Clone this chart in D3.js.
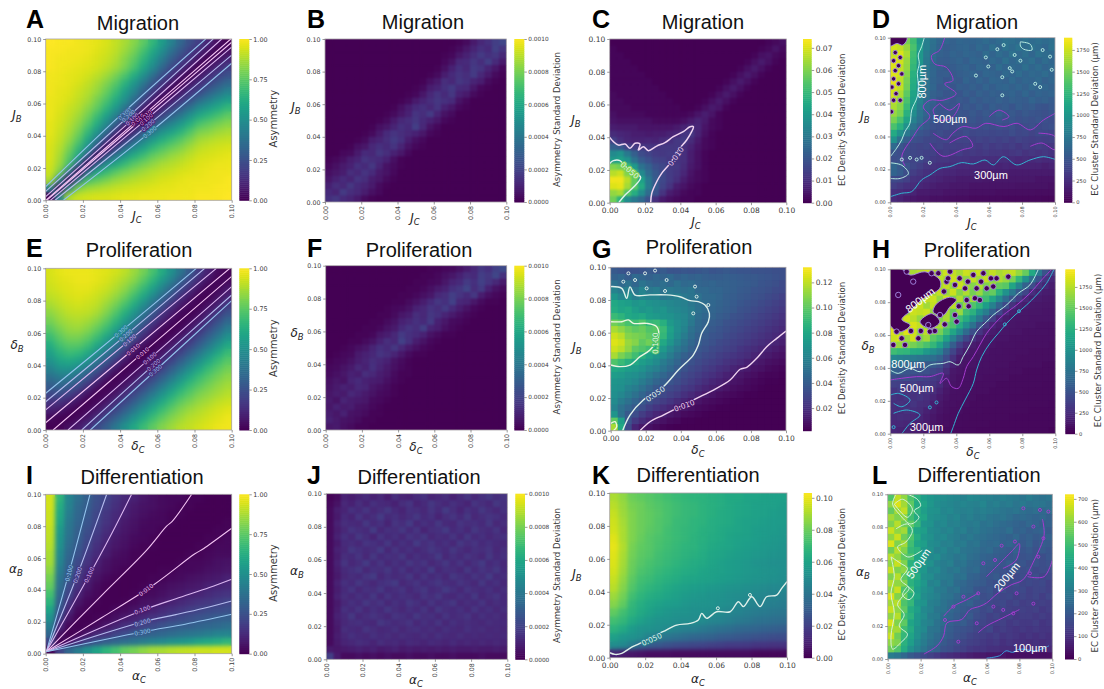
<!DOCTYPE html>
<html>
<head>
<meta charset="utf-8">
<script src="https://cdn.jsdelivr.net/npm/d3@7"></script>
<style>
  body { margin: 0; background: #fff; }
  text { font-family: "DejaVu Sans", sans-serif; fill: #3a3a3a; }
  .title, .letter, .big { font-family: "Liberation Sans", Arial, sans-serif; }
  .title { font-size: 20px; fill: #111; }
  .letter { font-size: 25px; font-weight: bold; fill: #000; }
  .axis path { display: none; }
  .axis line { stroke: #555; stroke-width: 0.6; }
</style>
</head>
<body>
<svg id="chart" width="1104" height="689"></svg>
<script>
// rows run top to bottom (highest y value first), columns left to right
const axisTicks = [0, 0.02, 0.04, 0.06, 0.08, 0.1];

const asymMigration = [
  [100,99,99,98,97,96,94,91,87,82,75,66,55,44,33,24,18,10,4,0],
  [99,99,98,98,97,95,93,90,85,79,70,60,49,37,27,19,11,5,0,4],
  [99,98,98,97,96,94,92,88,82,75,65,54,42,30,21,13,5,0,5,10],
  [99,98,97,96,95,93,90,86,80,71,60,48,34,23,14,6,0,6,12,18],
  [98,97,96,95,93,90,86,80,72,62,50,37,25,15,6,0,6,13,19,25],
  [98,97,96,94,91,87,81,74,64,53,40,27,16,7,0,7,14,20,27,34],
  [98,96,95,92,89,84,77,68,57,45,31,18,8,0,7,15,21,30,37,44],
  [97,96,94,91,87,80,72,62,50,36,22,9,0,8,16,24,34,42,49,55],
  [97,95,92,89,83,76,66,54,40,26,10,0,9,18,27,37,48,54,60,66],
  [97,94,91,86,79,69,57,44,29,12,0,10,20,31,40,50,60,65,70,75],
  [96,93,89,83,74,62,48,32,13,0,12,24,36,45,53,62,71,75,79,82],
  [96,92,87,79,67,53,36,16,0,13,28,40,50,57,64,72,80,82,85,87],
  [95,91,84,74,59,41,19,0,16,32,44,54,62,68,74,80,86,88,90,91],
  [94,89,80,67,49,25,0,19,36,48,57,66,72,77,81,86,90,92,93,94],
  [94,87,75,59,30,0,25,41,53,62,69,76,80,84,87,90,93,94,95,96],
  [93,85,70,35,0,30,49,59,67,74,79,83,87,89,91,93,95,96,97,97],
  [92,80,40,0,35,59,67,74,79,83,86,89,91,92,94,95,96,97,98,98],
  [88,45,0,40,70,75,80,84,87,89,91,92,94,95,96,97,97,98,98,99],
  [45,0,45,80,85,87,89,91,92,93,94,95,96,96,97,97,98,98,99,99],
  [0,45,88,92,93,94,94,95,96,96,97,97,97,98,98,98,99,99,99,100]
];
const asymProliferation = [
  [94,96,97,97,97,96,95,93,90,85,79,71,61,50,39,28,17,9,3,1],
  [93,95,96,97,97,96,94,91,87,82,74,65,54,43,31,21,11,4,1,2],
  [92,94,95,96,96,94,92,88,83,76,67,57,45,33,22,13,5,1,2,6],
  [90,92,94,95,94,92,89,84,78,69,59,47,35,24,14,6,1,1,5,10],
  [87,90,92,93,92,90,85,79,71,61,49,37,26,15,7,2,1,4,9,17],
  [83,87,90,91,90,87,81,73,63,52,40,28,16,8,2,0,3,9,16,25],
  [79,84,87,88,86,82,75,66,55,43,31,19,9,3,0,3,8,15,24,33],
  [74,80,84,85,82,76,68,58,46,34,21,10,3,0,2,7,14,23,32,42],
  [68,75,80,80,76,69,59,48,36,23,12,4,0,2,7,13,22,31,41,51],
  [62,70,74,74,69,60,49,38,25,13,4,0,2,7,13,21,30,40,50,60],
  [56,64,68,66,60,50,39,27,15,5,0,2,7,13,21,30,40,50,60,68],
  [50,58,60,57,50,39,27,16,6,0,2,6,13,21,30,40,50,60,68,74],
  [43,50,51,46,38,27,16,6,0,2,6,13,21,30,40,50,60,68,74,79],
  [36,41,41,35,26,16,6,0,2,6,13,21,30,40,50,60,68,74,79,83],
  [29,33,30,24,15,6,0,2,6,13,21,30,40,50,60,68,74,79,83,86],
  [22,24,20,13,5,0,2,6,13,21,30,40,50,60,68,74,80,83,86,89],
  [15,15,10,4,0,2,6,13,21,30,40,50,60,68,75,80,84,87,90,92],
  [9,7,2,0,2,6,13,21,30,40,50,60,68,75,81,85,88,91,93,95],
  [3,0,0,2,6,13,21,30,40,50,60,68,75,81,85,89,91,93,95,97],
  [0,1,4,8,14,22,30,40,50,60,68,75,81,85,89,91,93,95,97,98]
];
const asymDifferentiation = [
  [93,65,45,36,30,24,20,15,11,9,6,4,3,2,2,1,1,0,0,0],
  [93,62,44,34,29,23,18,14,10,7,5,4,3,2,1,1,0,0,0,0],
  [92,60,42,33,27,21,16,12,9,6,4,3,2,1,1,0,0,0,0,0],
  [92,58,40,32,26,20,15,11,7,5,3,2,2,1,0,0,0,0,0,1],
  [91,54,39,30,24,18,13,9,6,4,2,2,1,0,0,0,0,0,1,1],
  [90,52,37,29,22,16,11,7,5,3,2,1,0,0,0,0,0,1,1,2],
  [89,50,35,27,20,14,9,6,4,2,1,1,0,0,0,0,1,1,2,2],
  [87,47,33,25,17,12,8,4,3,1,1,0,0,0,0,1,1,2,3,3],
  [86,45,31,22,15,9,5,3,2,1,0,0,0,0,1,2,2,3,4,5],
  [83,42,29,20,12,7,4,2,1,0,0,0,1,1,2,2,3,4,5,6],
  [79,39,27,16,9,5,2,1,0,0,0,1,1,2,3,4,5,6,7,9],
  [76,36,23,14,7,3,1,0,0,0,1,2,3,4,5,6,7,9,10,11],
  [70,33,20,10,4,2,0,0,0,1,2,3,4,6,7,9,10,12,14,15],
  [65,30,15,6,2,1,0,0,1,2,4,5,7,9,11,13,15,16,18,20],
  [58,26,11,3,1,0,0,2,3,5,7,9,12,14,16,18,20,22,23,24],
  [50,20,6,1,0,1,2,4,7,9,12,15,17,20,22,24,26,27,29,30],
  [42,12,2,0,1,3,6,10,14,16,20,22,25,27,29,30,32,33,34,36],
  [33,4,0,2,6,11,15,20,23,27,29,31,33,35,37,39,40,42,44,45],
  [20,0,4,12,20,26,30,33,36,39,42,45,47,50,52,54,58,60,62,65],
  [0,20,33,42,50,58,65,70,76,79,83,86,87,89,90,91,92,92,93,93]
];

const stdMigration = [
  [0,0,0,0,0,0,0,0,0,0,0,0,0,0,0,0,0,0,1,3,7,11,14,18,21],
  [0,0,0,0,0,0,0,0,0,0,0,0,0,0,0,0,0,1,3,6,10,14,12,19,15],
  [0,0,0,0,0,0,0,0,0,0,0,0,0,0,0,0,1,2,6,9,13,17,14,16,11],
  [0,0,0,0,0,0,0,0,0,0,0,0,0,0,0,0,2,5,11,12,16,13,18,12,7],
  [0,0,0,0,0,0,0,0,0,0,0,0,0,0,0,1,4,9,14,11,17,15,10,6,2],
  [0,0,0,0,0,0,0,0,0,0,0,0,0,0,1,3,8,12,15,13,17,11,7,3,1],
  [0,0,0,0,0,0,0,0,0,0,0,0,0,1,4,7,13,11,16,14,10,8,3,1,0],
  [0,0,0,0,0,0,0,0,0,0,0,0,1,3,8,10,14,17,12,11,6,2,1,0,0],
  [0,0,0,0,0,0,0,0,0,0,0,1,2,6,11,15,12,16,9,7,3,1,0,0,0],
  [0,0,0,0,0,0,0,0,0,0,1,3,7,10,13,16,14,12,5,2,0,0,0,0,0],
  [0,0,0,0,0,0,0,0,0,1,4,8,12,14,11,15,9,6,2,1,0,0,0,0,0],
  [0,0,0,0,0,0,0,0,1,3,6,9,15,13,17,10,5,3,0,0,0,0,0,0,0],
  [0,0,0,0,0,0,0,1,3,7,11,13,16,12,9,6,2,1,0,0,0,0,0,0,0],
  [0,0,0,0,0,0,1,4,6,10,14,12,18,11,5,2,0,0,0,0,0,0,0,0,0],
  [0,0,0,0,0,1,3,7,12,15,13,11,9,6,2,1,0,0,0,0,0,0,0,0,0],
  [0,0,0,0,1,3,8,10,13,17,14,8,4,2,0,0,0,0,0,0,0,0,0,0,0],
  [0,0,0,1,4,6,11,14,12,15,10,5,2,1,0,0,0,0,0,0,0,0,0,0,0],
  [0,0,2,3,7,12,11,16,13,9,6,2,0,0,0,0,0,0,0,0,0,0,0,0,0],
  [1,2,4,8,10,15,13,12,9,4,1,0,0,0,0,0,0,0,0,0,0,0,0,0,0],
  [2,4,7,9,14,12,16,10,5,3,1,0,0,0,0,0,0,0,0,0,0,0,0,0,0],
  [4,6,8,13,11,15,12,7,5,2,0,0,0,0,0,0,0,0,0,0,0,0,0,0,0],
  [6,9,12,10,15,13,8,6,3,1,0,0,0,0,0,0,0,0,0,0,0,0,0,0,0],
  [9,13,11,16,12,10,7,3,1,0,0,0,0,0,0,0,0,0,0,0,0,0,0,0,0],
  [12,10,17,13,11,8,4,2,0,0,0,0,0,0,0,0,0,0,0,0,0,0,0,0,0],
  [14,16,12,10,7,3,1,0,0,0,0,0,0,0,0,0,0,0,0,0,0,0,0,0,0]
];
const stdProliferation = [
  [0,0,0,0,0,0,0,0,0,0,0,0,0,0,1,1,2,3,5,8,11,16,14,19,22],
  [0,0,0,0,0,0,0,0,0,0,0,0,0,1,1,2,4,6,9,13,12,18,16,21,14],
  [0,0,0,0,0,0,0,0,0,0,0,0,1,1,2,3,6,10,12,17,14,19,15,11,7],
  [0,0,0,0,0,0,0,0,0,0,0,1,1,2,4,7,9,14,16,20,13,17,9,5,3],
  [0,0,0,0,0,0,0,0,0,0,1,1,2,4,6,11,13,18,15,12,16,8,4,2,1],
  [0,0,0,0,0,0,0,0,0,1,1,3,5,8,12,16,14,19,11,10,6,3,1,1,0],
  [0,0,0,0,0,0,0,0,1,2,3,5,9,11,15,13,17,12,8,5,2,1,0,0,0],
  [0,0,0,0,0,0,0,1,1,3,6,8,13,11,16,14,10,7,4,2,1,0,0,0,0],
  [0,0,0,0,0,0,1,1,3,5,9,11,14,12,17,9,6,3,2,1,0,0,0,0,0],
  [0,0,0,0,0,1,1,2,5,7,12,15,13,18,10,8,4,2,1,0,0,0,0,0,0],
  [0,0,0,0,1,1,2,6,8,11,17,14,12,9,5,3,1,1,0,0,0,0,0,0,0],
  [0,0,0,1,1,3,5,9,13,11,19,14,8,5,2,1,0,0,0,0,0,0,0,0,0],
  [0,0,1,2,4,6,10,14,12,16,11,7,4,2,1,0,0,0,0,0,0,0,0,0,0],
  [0,1,2,3,7,9,11,15,13,10,6,3,1,1,0,0,0,0,0,0,0,0,0,0,0],
  [1,2,3,5,8,10,13,11,9,5,3,1,0,0,0,0,0,0,0,0,0,0,0,0,0],
  [2,3,5,7,11,9,14,10,7,4,2,1,0,0,0,0,0,0,0,0,0,0,0,0,0],
  [3,4,6,9,8,13,11,8,6,3,1,1,0,0,0,0,0,0,0,0,0,0,0,0,0],
  [4,6,5,10,12,9,8,7,4,2,1,0,0,0,0,0,0,0,0,0,0,0,0,0,0],
  [5,7,9,8,11,10,6,4,3,1,0,0,0,0,0,0,0,0,0,0,0,0,0,0,0],
  [6,8,7,11,9,7,5,3,2,1,0,0,0,0,0,0,0,0,0,0,0,0,0,0,0],
  [7,5,10,8,7,6,3,2,1,0,0,0,0,0,0,0,0,0,0,0,0,0,0,0,0],
  [6,9,7,8,5,4,2,1,0,0,0,0,0,0,0,0,0,0,0,0,0,0,0,0,0],
  [8,6,9,5,4,3,1,1,0,0,0,0,0,0,0,0,0,0,0,0,0,0,0,0,0],
  [9,7,5,4,3,1,1,0,0,0,0,0,0,0,0,0,0,0,0,0,0,0,0,0,0],
  [6,7,4,3,1,1,0,0,0,0,0,0,0,0,0,0,0,0,0,0,0,0,0,0,0]
];
const stdDifferentiation = [
  [1,3,9,8,10,12,9,11,8,13,10,9,12,14,10,11,13,9,12,15,11,14,16,13,15],
  [2,5,11,9,13,10,14,12,11,9,13,15,10,12,16,13,11,14,12,10,15,13,11,16,14],
  [3,8,10,14,12,15,11,13,16,12,10,14,13,11,15,12,17,13,10,14,12,16,13,11,14],
  [3,7,12,10,15,11,13,17,12,14,11,13,16,12,14,10,13,15,12,16,11,13,15,14,12],
  [3,9,13,12,11,16,12,14,10,15,13,17,11,14,12,16,12,11,15,13,14,12,16,11,13],
  [3,8,11,15,13,12,17,11,14,13,16,12,15,10,13,14,17,12,14,11,16,13,12,15,11],
  [3,9,14,11,16,13,10,15,12,14,11,15,13,16,11,13,12,15,11,16,12,14,11,13,14],
  [3,7,12,13,11,15,14,12,16,11,14,12,17,13,15,12,14,11,16,13,15,12,14,12,11],
  [3,9,11,16,14,12,13,17,11,15,12,14,11,13,16,14,12,16,13,11,14,13,15,11,13],
  [3,8,13,12,15,11,16,12,14,13,16,11,14,12,13,17,11,14,12,15,13,11,16,12,14],
  [3,9,15,11,13,17,12,15,11,14,12,16,13,15,11,13,16,12,15,11,14,17,12,14,11],
  [3,8,12,14,16,11,14,13,16,12,15,11,14,12,17,11,14,13,11,16,12,15,13,16,12],
  [3,7,11,13,12,15,17,11,14,12,13,16,11,15,12,14,11,16,14,12,15,13,17,12,13],
  [3,9,14,12,16,13,11,14,15,17,11,13,15,12,14,16,13,12,15,13,11,16,12,14,11],
  [3,8,12,15,11,14,13,16,12,13,15,11,14,16,12,13,17,14,11,15,13,12,14,11,13],
  [3,9,13,11,14,12,16,11,15,12,14,13,11,15,13,16,12,11,14,12,16,11,13,15,12],
  [3,7,11,14,12,16,13,15,11,14,12,16,14,11,15,12,14,16,11,13,12,15,11,13,12],
  [3,8,14,12,15,11,14,12,16,13,11,14,12,15,11,16,13,12,14,11,15,12,14,11,13],
  [3,9,12,16,11,13,15,13,11,15,14,12,16,13,14,11,15,12,13,15,11,14,12,13,11],
  [3,8,11,13,14,12,11,16,14,12,13,15,11,14,12,15,11,14,12,13,12,11,13,12,12],
  [3,7,13,12,11,15,13,11,12,14,11,13,14,12,13,11,14,12,11,14,12,13,11,12,11],
  [3,8,11,14,12,11,14,12,13,11,13,12,11,13,11,14,12,11,13,11,12,11,12,11,12],
  [3,7,10,11,13,12,10,13,11,12,10,12,11,10,12,11,10,12,10,11,10,11,10,11,10],
  [7,6,7,8,9,8,9,7,8,9,7,8,7,8,7,8,7,8,7,7,8,7,7,8,7],
  [18,7,3,3,4,3,4,3,4,3,3,4,3,3,4,3,3,4,3,3,3,4,3,3,3]
];

const densityMigration = [
  [0,0,0,0,0,0,0,0,0,0,0,0,0,0,0,0,0,0,0,0,0,0,1,2,3],
  [1,0,0,0,0,0,0,0,0,0,0,0,0,0,0,0,0,0,0,0,0,1,2,4,2],
  [1,1,0,0,0,0,0,0,0,0,0,0,0,0,0,0,0,0,0,0,1,3,4,2,1],
  [1,1,1,0,0,0,0,0,0,0,0,0,0,0,0,0,0,0,0,1,3,5,3,1,0],
  [1,1,1,1,0,0,0,0,0,0,0,0,0,0,0,0,0,0,1,3,5,3,1,0,0],
  [1,1,1,1,1,0,0,0,0,0,0,0,0,0,0,0,0,1,3,5,3,1,0,0,0],
  [1,1,1,1,1,1,0,0,0,0,0,0,0,0,0,0,1,3,5,3,1,0,0,0,0],
  [1,1,1,1,1,1,1,0,0,0,0,0,0,0,0,1,3,5,3,1,0,0,0,0,0],
  [2,1,1,1,1,1,1,1,0,0,0,0,0,0,1,3,5,3,1,0,0,0,0,0,0],
  [2,2,1,1,1,1,1,1,1,0,0,0,0,1,3,5,3,1,0,0,0,0,0,0,0],
  [2,2,2,1,1,1,1,1,1,1,0,0,1,3,5,4,1,0,0,0,0,0,0,0,0],
  [3,2,2,2,2,1,1,1,1,1,1,2,4,6,4,1,0,0,0,0,0,0,0,0,0],
  [4,3,3,3,3,3,2,2,2,2,3,5,7,5,2,1,0,0,0,0,0,0,0,0,0],
  [6,5,5,5,4,4,4,4,4,5,7,9,8,4,2,1,0,0,0,0,0,0,0,0,0],
  [9,8,7,6,6,5,6,6,7,8,11,12,7,3,1,0,0,0,0,0,0,0,0,0,0],
  [14,10,8,7,7,8,7,9,10,12,13,9,5,2,1,0,0,0,0,0,0,0,0,0,0],
  [22,20,15,13,12,11,11,12,12,12,10,7,4,2,1,0,0,0,0,0,0,0,0,0,0],
  [35,38,30,22,17,15,13,12,13,12,10,6,3,1,0,0,0,0,0,0,0,0,0,0,0],
  [40,42,38,28,21,18,15,14,12,11,10,6,3,1,0,0,0,0,0,0,0,0,0,0,0],
  [60,58,50,40,28,23,18,16,13,12,9,5,3,1,0,0,0,0,0,0,0,0,0,0,0],
  [66,68,60,52,35,26,20,16,13,11,8,4,2,1,0,0,0,0,0,0,0,0,0,0,0],
  [72,72,66,56,42,30,21,16,13,10,6,3,2,1,0,0,0,0,0,0,0,0,0,0,0],
  [70,71,64,55,45,30,21,15,11,6,4,2,1,0,0,0,0,0,0,0,0,0,0,0,0],
  [62,64,54,46,36,26,18,11,6,4,2,1,1,0,0,0,0,0,0,0,0,0,0,0,0],
  [58,48,36,30,25,18,10,5,3,2,1,1,0,0,0,0,0,0,0,0,0,0,0,0,0]
];
const densityProliferation = [
  [38,36,34,35,36,38,37,39,36,36,37,36,37,38,36,37,38,37,36,36,35,35,34,33,33],
  [42,44,40,46,44,42,45,43,46,42,44,42,43,41,40,40,41,40,39,38,38,37,36,34,33],
  [50,46,50,45,52,48,46,49,46,50,46,47,44,43,44,42,42,41,40,39,38,36,35,33,31],
  [60,55,58,52,60,54,56,50,54,52,50,52,46,46,44,44,42,41,39,38,36,35,33,31,30],
  [70,62,66,58,62,60,60,54,56,58,54,52,50,46,46,44,41,40,38,37,35,33,31,29,27],
  [80,76,74,70,72,68,66,64,62,60,58,54,50,48,45,43,41,39,37,35,33,31,29,27,25],
  [82,78,80,74,70,72,68,70,64,62,60,56,50,47,44,42,40,38,35,33,31,29,27,25,23],
  [90,86,80,78,80,74,72,70,68,64,62,56,48,45,43,40,38,35,33,31,29,27,25,23,21],
  [104,100,94,92,96,88,90,84,72,66,62,54,46,43,40,38,35,33,31,29,27,25,23,21,19],
  [115,110,104,100,102,96,98,90,76,66,60,50,45,41,38,36,33,31,29,27,25,23,21,19,17],
  [122,118,108,106,104,100,104,88,74,64,56,48,42,39,36,34,31,29,27,25,23,21,19,17,15],
  [125,122,112,108,100,104,96,80,70,60,52,45,40,37,34,31,29,27,25,23,21,19,17,15,13],
  [122,118,110,100,96,92,80,72,62,54,48,42,37,34,31,29,27,25,22,20,18,16,14,12,10],
  [115,106,100,92,84,76,70,64,56,48,42,38,34,31,29,26,24,22,20,18,15,13,11,9,8],
  [96,90,84,80,74,70,64,56,50,44,38,34,31,28,26,24,21,19,17,14,12,10,8,7,6],
  [80,78,74,72,68,62,58,52,46,40,35,31,28,25,23,20,18,15,13,11,9,8,6,5,4],
  [74,72,68,66,62,56,50,45,40,36,31,28,25,22,20,17,14,12,10,8,7,5,4,4,3],
  [70,68,65,62,56,50,44,40,36,32,28,25,22,19,16,14,12,9,8,6,5,4,3,3,2],
  [68,66,60,56,50,44,38,35,31,28,24,22,18,15,13,11,9,7,6,5,4,3,2,2,2],
  [66,62,56,50,44,38,34,30,27,24,20,17,14,11,9,7,6,5,4,3,3,2,2,2,1],
  [64,56,50,44,38,32,28,25,22,18,15,12,9,7,6,5,4,3,3,2,2,2,1,1,1],
  [60,50,44,38,32,26,22,19,16,13,10,8,6,5,4,3,3,2,2,1,1,1,1,1,1],
  [70,50,38,32,25,20,16,13,10,8,6,5,4,3,2,2,2,1,1,1,1,1,1,1,1],
  [100,75,35,24,18,14,10,8,6,5,3,3,2,2,1,1,1,1,1,1,1,1,1,1,1],
  [115,80,30,15,10,8,6,4,3,2,2,1,1,1,1,1,1,1,1,1,1,1,1,1,1]
];
const densityDifferentiation = [
  [90,86,80,78,76,74,72,70,68,67,66,65,64,62,62,60,60,59,58,58],
  [92,87,82,80,77,75,73,71,69,68,66,65,64,62,61,60,59,58,58,57],
  [94,88,83,80,78,76,73,71,69,68,66,65,63,62,61,60,59,58,57,56],
  [95,89,83,80,78,75,73,70,69,67,66,64,63,62,60,59,58,57,56,56],
  [96,90,83,80,77,75,72,70,68,67,65,64,62,61,60,59,57,56,56,55],
  [98,90,83,79,76,74,72,70,68,66,65,63,62,60,59,58,57,56,55,54],
  [99,91,82,78,76,73,71,69,67,66,64,62,61,60,58,57,56,55,54,53],
  [98,90,81,77,75,72,70,68,66,65,63,61,60,58,57,56,55,54,53,52],
  [97,89,80,76,73,71,69,67,65,63,62,60,58,57,56,55,53,52,51,51],
  [96,88,79,74,72,69,67,65,63,62,60,59,58,57,56,55,54,53,52,51],
  [94,86,77,72,70,67,65,63,61,60,59,58,57,56,55,54,53,52,51,50],
  [92,84,75,70,67,65,62,60,58,57,56,55,54,53,52,51,50,49,48,48],
  [88,81,72,67,64,62,60,58,56,55,54,53,52,51,50,49,48,47,46,45],
  [84,78,68,64,61,59,57,56,54,53,53,52,51,50,48,47,46,45,44,43],
  [78,72,66,62,59,56,54,53,52,51,51,50,49,47,46,44,43,42,41,40],
  [72,68,62,58,55,53,52,51,50,50,49,47,46,44,42,41,39,38,37,36],
  [66,62,56,53,52,51,49,47,45,44,42,40,38,37,35,34,33,32,31,30],
  [58,54,52,50,45,42,40,38,36,34,33,32,30,29,28,27,26,25,24,24],
  [50,48,42,34,30,28,26,24,23,22,21,20,19,18,18,17,16,16,15,15],
  [10,8,6,5,4,4,4,3,3,3,3,3,3,3,3,3,2,2,2,2]
];

const clusterMigration = [
  [175,170,150,130,100,80,70,62,60,58,62,60,60,62,65,62,65,70,68,65,70,65,68,65,68],
  [175,172,160,135,105,80,68,60,55,58,60,62,58,64,60,68,62,70,65,72,66,70,65,62,70],
  [172,178,165,130,100,78,66,58,56,60,58,62,60,58,66,60,66,62,70,64,68,62,70,66,64],
  [180,175,160,128,100,76,64,55,54,57,60,56,62,60,58,64,60,68,62,66,64,68,60,66,62],
  [178,172,158,125,95,74,62,56,52,54,58,60,56,62,60,58,66,60,64,62,68,62,66,60,64],
  [180,176,155,120,92,72,62,54,55,52,56,58,60,56,62,60,58,64,60,66,60,64,62,66,60],
  [182,170,150,118,90,72,60,56,50,54,52,60,56,60,56,62,60,58,64,58,62,60,64,58,62],
  [178,172,148,115,88,70,62,52,54,50,56,54,58,54,60,56,60,62,58,62,58,64,60,62,58],
  [175,165,142,110,86,68,58,54,50,52,50,56,52,58,54,58,56,58,60,56,62,56,60,58,60],
  [170,160,135,105,82,66,58,50,52,48,52,50,56,52,56,54,58,54,58,56,54,60,56,58,54],
  [165,155,128,100,78,62,54,50,48,50,48,52,50,54,50,56,52,54,50,56,52,54,50,48,52],
  [160,150,120,92,72,60,52,48,50,46,50,48,52,48,52,50,54,50,52,48,52,50,48,46,50],
  [150,135,110,84,68,56,50,46,48,46,48,46,50,46,50,48,50,46,50,46,48,46,50,46,44],
  [135,120,95,72,60,52,46,44,46,42,46,44,46,44,46,44,46,44,46,42,44,46,42,44,46],
  [115,95,75,60,50,46,42,44,40,42,40,44,40,42,42,40,42,40,44,40,42,38,42,40,38],
  [95,70,55,46,44,40,40,38,40,36,38,38,36,38,36,38,36,38,34,38,36,34,36,34,36],
  [65,50,44,40,38,40,36,38,34,36,34,36,34,32,36,32,34,32,34,30,34,32,34,32,30],
  [48,44,42,40,38,36,36,32,34,32,34,30,32,30,32,30,30,28,30,32,28,30,28,30,28],
  [44,46,40,38,42,36,32,30,30,28,28,28,26,26,24,25,24,24,24,22,24,22,24,22,22],
  [62,52,48,40,36,30,28,26,24,24,22,22,20,20,20,20,18,20,18,18,18,18,18,16,18],
  [60,54,44,34,30,26,24,22,20,20,18,18,18,16,16,16,16,16,14,14,14,14,14,14,14],
  [42,40,36,28,26,22,20,18,16,16,14,14,14,14,12,12,12,12,12,12,12,12,10,10,10],
  [34,30,26,24,20,18,16,14,14,12,12,12,10,10,10,10,10,10,10,9,9,9,9,9,8],
  [26,24,20,18,14,14,12,12,10,10,9,9,8,8,8,8,7,7,7,7,7,7,6,6,6],
  [22,18,14,12,10,10,8,8,7,7,6,6,5,5,5,5,5,4,4,4,4,4,4,3,3]
];
const clusterProliferation = [
  [170,170,175,170,175,180,175,172,180,178,170,180,176,180,168,178,170,176,178,165,150,118,78,50,32],
  [170,175,178,172,175,178,180,176,170,180,176,165,178,168,178,160,172,165,155,130,100,72,50,30,20],
  [175,178,172,178,180,176,178,170,178,165,180,170,160,172,158,168,150,145,115,88,60,45,28,20,16],
  [178,175,180,176,178,180,168,178,166,180,160,172,155,165,145,150,125,100,78,55,40,26,18,15,14],
  [176,180,178,180,170,178,180,165,180,158,172,150,168,140,135,115,92,68,50,34,22,16,14,13,12],
  [180,176,178,175,180,168,178,180,160,175,150,165,142,130,108,85,62,44,28,18,15,13,12,11,11],
  [178,180,170,180,178,180,166,178,170,150,165,135,125,100,82,58,40,24,16,13,12,11,11,10,10],
  [180,172,182,176,165,178,180,160,170,145,135,120,100,78,54,36,22,15,12,11,11,10,10,10,10],
  [182,185,170,184,178,165,175,170,150,140,120,96,74,50,32,20,15,12,11,10,10,10,9,9,9],
  [185,172,186,180,165,176,160,155,135,115,92,68,46,30,20,14,12,11,10,10,9,9,9,9,8],
  [180,184,168,182,160,168,145,135,112,85,62,42,28,18,13,11,10,10,9,9,9,8,8,8,8],
  [170,165,160,155,148,140,130,112,85,58,38,24,15,12,11,10,9,9,9,8,8,8,8,8,7],
  [135,130,128,120,118,105,95,85,60,40,24,15,12,11,10,9,9,8,8,8,8,7,7,7,7],
  [90,85,82,80,76,74,70,62,45,28,15,12,11,10,9,9,8,8,8,7,7,7,7,7,7],
  [72,70,66,62,58,55,54,48,32,18,12,10,10,9,9,8,8,8,7,7,7,7,7,6,6],
  [60,56,52,50,46,48,42,38,24,13,10,9,9,8,8,8,7,7,7,7,6,6,6,6,6],
  [48,44,46,40,42,38,34,30,18,11,9,9,8,8,7,7,7,7,6,6,6,6,6,6,6],
  [38,36,34,36,32,34,30,24,14,10,9,8,8,7,7,7,6,6,6,6,6,6,6,5,5],
  [30,34,28,30,28,30,26,18,12,9,8,8,7,7,7,6,6,6,6,6,5,5,5,5,5],
  [28,26,30,28,30,26,20,14,10,8,8,7,7,6,6,6,6,6,5,5,5,5,5,5,5],
  [26,28,26,30,26,24,16,12,9,8,7,7,6,6,6,6,5,5,5,5,5,5,5,5,4],
  [26,24,28,26,24,18,14,10,8,7,7,6,6,6,5,5,5,5,5,5,5,4,4,4,4],
  [24,26,24,22,20,16,12,9,7,7,6,6,5,5,5,5,5,5,4,4,4,4,4,4,4],
  [22,22,20,18,18,14,10,8,7,6,6,5,5,5,5,4,4,4,4,4,4,4,4,4,4],
  [20,18,18,16,14,11,9,7,6,6,5,5,5,4,4,4,4,4,4,4,4,4,4,4,3]
];
const clusterDifferentiation = [
  [52,65,60,52,46,40,38,36,35,34,33,32,34,33,32,31,30,31,30,29,28,30,28,27,28],
  [60,68,62,54,44,42,38,35,34,33,32,33,32,31,33,30,31,29,30,28,29,27,28,28,26],
  [55,62,65,52,46,40,37,36,33,34,32,31,32,30,31,30,29,28,27,28,26,25,26,24,26],
  [62,58,60,50,44,42,36,35,34,32,33,30,31,29,30,28,27,28,26,24,25,24,23,24,22],
  [58,64,56,54,48,38,37,33,34,31,32,30,29,30,27,28,26,25,24,23,22,24,23,21,22],
  [66,60,62,48,42,40,35,34,32,33,30,31,28,29,27,26,25,24,26,22,23,21,22,23,20],
  [60,66,56,52,44,38,36,33,34,31,30,28,29,27,26,25,24,23,22,24,21,22,20,21,22],
  [68,58,62,50,42,40,35,34,31,32,29,30,27,28,25,24,25,22,23,21,20,22,19,21,20],
  [56,64,58,48,46,38,36,32,33,30,31,28,27,26,24,25,22,21,20,22,19,20,18,20,19],
  [64,60,54,52,42,40,34,35,31,30,28,29,26,25,23,22,21,20,19,20,18,19,18,17,19],
  [60,66,58,46,44,38,36,32,30,31,27,28,25,24,22,21,20,19,21,18,19,17,18,17,18],
  [66,58,60,50,40,38,33,34,30,28,29,26,24,25,21,20,19,18,17,19,17,18,16,17,17],
  [58,64,54,48,44,36,35,31,30,29,26,27,23,22,20,19,20,17,18,16,17,16,17,15,16],
  [64,60,58,46,42,38,32,33,28,29,25,24,22,21,20,18,17,18,16,17,15,16,15,16,14],
  [60,66,52,50,40,36,34,30,29,26,27,23,22,19,18,19,16,17,15,16,16,14,15,15,14],
  [68,58,56,46,42,35,33,31,28,27,24,22,20,21,17,18,16,15,16,14,15,14,15,13,15],
  [62,64,52,48,38,37,31,30,27,25,23,21,22,19,18,16,15,16,14,15,13,14,13,14,13],
  [66,60,54,44,40,34,32,28,27,24,22,20,19,18,16,17,14,15,14,13,14,13,14,12,13],
  [60,64,50,46,38,35,30,29,25,23,21,19,20,17,16,14,15,13,14,12,13,13,12,13,12],
  [68,58,54,42,38,33,31,27,25,22,20,21,18,16,15,14,13,14,12,13,12,12,13,11,12],
  [62,62,50,44,36,34,28,27,23,21,19,18,17,15,14,15,12,13,12,11,12,11,12,11,11],
  [66,56,48,42,36,31,28,25,22,20,18,17,15,14,13,12,13,11,12,11,10,11,10,11,10],
  [60,58,46,40,34,30,26,24,20,18,17,15,14,13,12,11,12,10,11,10,10,9,10,9,10],
  [56,52,44,36,32,28,24,22,18,17,15,14,12,11,11,10,10,9,9,9,9,8,9,8,8],
  [30,28,24,20,18,16,14,12,10,9,8,7,6,5,5,4,4,4,3,3,3,3,3,3,3]
];

// contour levels: [level, [[x, y], ...]] in axis units
const linesAsymA = [
  [0.3, [[0,0.0085],[0.04,0.0525],[0.086,0.1]]],
  [0.2, [[0,0.0055],[0.045,0.0525],[0.09,0.1]]],
  [0.1, [[0,0.0023],[0.047,0.0505],[0.0946,0.1]]],
  [0.01, [[0,0],[0.05,0.0503],[0.0995,0.1]]],
  [0.01, [[0.0005,0],[0.052,0.0507],[0.1,0.098]]],
  [0.1, [[0.0025,0],[0.052,0.0482],[0.1,0.095]]],
  [0.2, [[0.005,0],[0.054,0.0456],[0.1,0.09]]],
  [0.3, [[0.0095,0],[0.055,0.0412],[0.1,0.085]]]
];
const lineLabelsA = [
  [0.3,"0.300",0.0425,0.0535],[0.2,"0.200",0.0445,0.0522],[0.1,"0.100",0.0465,0.0502],
  [0.01,"0.010",0.0495,0.05],[0.01,"0.010",0.0535,0.0522],
  [0.1,"0.100",0.054,0.0502],[0.2,"0.200",0.055,0.0465],[0.3,"0.300",0.056,0.0422]
];
const linesAsymE = [
  [0.3, [[0,0.0227],[0.04,0.0605],[0.081,0.1]]],
  [0.2, [[0,0.0175],[0.043,0.0585],[0.0855,0.1]]],
  [0.1, [[0,0.0124],[0.045,0.0554],[0.0918,0.1]]],
  [0.01, [[0,0.0045],[0.047,0.0498],[0.099,0.1]]],
  [0.01, [[0.004,0],[0.052,0.0475],[0.1,0.095]]],
  [0.1, [[0.012,0],[0.056,0.0443],[0.1,0.0887]]],
  [0.2, [[0.0194,0],[0.058,0.0403],[0.1,0.0835]]],
  [0.3, [[0.024,0],[0.059,0.0368],[0.1,0.08]]]
];
const lineLabelsE = [
  [0.3,"0.300",0.0405,0.061],[0.2,"0.200",0.043,0.0585],[0.1,"0.100",0.045,0.0554],
  [0.01,"0.010",0.047,0.0498],[0.01,"0.010",0.052,0.0475],
  [0.1,"0.100",0.056,0.0443],[0.2,"0.200",0.058,0.0403],[0.3,"0.300",0.059,0.0368]
];
const linesAsymI = [
  [0.3, [[0.0003,0.0012],[0.0122,0.0494],[0.0238,0.1]]],
  [0.2, [[0.0003,0.0012],[0.017,0.0494],[0.0328,0.1]]],
  [0.1, [[0.0003,0.0012],[0.0235,0.0494],[0.036,0.0765],[0.0462,0.1]]],
  [0.01, [[0.0003,0.0012],[0.03,0.0365],[0.0543,0.065],[0.065,0.08],[0.068,0.083],[0.0785,0.1]]],
  [0.01, [[0.0003,0.0012],[0.03,0.0225],[0.0579,0.0431],[0.08,0.0625],[0.085,0.066],[0.1,0.0787]]],
  [0.1, [[0.0003,0.0012],[0.0525,0.0274],[0.07,0.0345],[0.088,0.0415],[0.1,0.0467]]],
  [0.2, [[0.0003,0.0012],[0.0525,0.0201],[0.07,0.0245],[0.085,0.0285],[0.1,0.0331]]],
  [0.3, [[0.0003,0.0012],[0.0525,0.0138],[0.075,0.0185],[0.1,0.0247]]]
];
const lineLabelsI = [
  [0.3,"0.100",0.0126,0.0505],[0.2,"0.200",0.0172,0.0494],[0.1,"0.100",0.0235,0.0494],
  [0.01,"0.010",0.054,0.04],[0.1,"0.100",0.052,0.0274],[0.2,"0.200",0.052,0.0195],[0.3,"0.300",0.052,0.0135]
];

const linesDensityC = [
  [0.01, [[0,0.0399],[0.0021,0.0373],[0.0049,0.0352],[0.0087,0.0358],[0.0115,0.0332],[0.0143,0.0363],[0.0172,0.0358],[0.0162,0.0322],[0.0191,0.0342],[0.0219,0.0318],[0.0266,0.0346],[0.0313,0.0367],[0.036,0.0403],[0.0417,0.0434],[0.0455,0.0464],[0.0474,0.0464],[0.0464,0.0434],[0.0436,0.0383],[0.0389,0.0322],[0.0342,0.024],[0.0294,0.0179],[0.0266,0.0128],[0.0238,0.0057],[0.0232,0]]],
  [0.05, [[0,0.024],[0.0021,0.0257],[0.0058,0.0257],[0.0081,0.023],[0.0125,0.0189],[0.0175,0.0155],[0.0134,0.0094],[0.0087,0.0047],[0.0051,0]]]
];
const lineLabelsC = [[0.01,"0.010",0.0375,0.0282],[0.05,"0.050",0.0112,0.0197]];
const linesDensityG = [
  [0.01, [[0.0167,0],[0.0224,0.0055],[0.03,0.0096],[0.0376,0.0137],[0.049,0.0198],[0.0586,0.0249],[0.0681,0.031],[0.0738,0.0376],[0.0776,0.0388],[0.0833,0.0443],[0.089,0.0514],[0.0947,0.0565],[0.1,0.061]]],
  [0.05, [[0.0068,0],[0.011,0.0096],[0.0186,0.0188],[0.03,0.0269],[0.0386,0.0371],[0.0471,0.0463],[0.05,0.0524],[0.0519,0.0596],[0.0557,0.0667],[0.0563,0.0718],[0.0538,0.0769],[0.05,0.079],[0.0453,0.0796],[0.0395,0.082],[0.032,0.0831],[0.0224,0.0831],[0.0139,0.083],[0.011,0.088],[0.0091,0.081],[0.0063,0.0871],[0,0.0882]]],
  [0.1, [[0,0.0667],[0.0063,0.0667],[0.0101,0.0678],[0.0129,0.0657],[0.0205,0.0657],[0.0262,0.0637],[0.0272,0.0576],[0.0224,0.0494],[0.0167,0.0453],[0.011,0.0402],[0.0053,0.0392],[0,0.0402]]],
  [0.1, [[0,0.0045],[0.0025,0.0055],[0.0034,0.0024],[0.0015,0]]]
];
const lineRingsG = [0.0072,0.0139,0.0253,0.0319,0.0481,0.0101,0.0196,0.0557,0.0471,0.031,0.0205,0.049];
const lineRingsGy = [0.0912,0.0922,0.098,0.0922,0.0882,0.0963,0.0963,0.0769,0.0718,0.0855,0.0871,0.082];
const lineLabelsG = [[0.05,"0.050",0.0255,0.0224],[0.01,"0.010",0.042,0.0153],[0.1,"0.100",0.0255,0.0535]];
const linesDensityK = [
  [0.05, [[0,0.003],[0.003,0.002],[0.0068,0.0026],[0.0113,0.0057],[0.017,0.0087],[0.03,0.0158],[0.0378,0.0198],[0.0453,0.0208],[0.05,0.0229],[0.0519,0.0269],[0.0547,0.0239],[0.0603,0.0279],[0.0679,0.0279],[0.0726,0.034],[0.0754,0.031],[0.0801,0.037],[0.0848,0.031],[0.0885,0.037],[0.0942,0.038],[0.097,0.0421],[0.1,0.0462]]]
];
const lineRingsK = [0.061,0.0791];
const lineRingsKy = [0.03,0.0381];
const lineLabelsK = [[0.05,"0.050",0.0237,0.0111]];

const linesClusterD = [
  [800, [[0.0206,0.1],[0.019,0.0945],[0.017,0.0895],[0.0176,0.0844],[0.0164,0.0783],[0.017,0.0723],[0.0164,0.0642],[0.013,0.0561],[0.0119,0.048],[0.0089,0.0429],[0.0069,0.0379],[0.0038,0.0328],[0,0.0277]]],
  [800, [[0,0.0145],[0.006,0.0145],[0.011,0.0175],[0.007,0.0225],[0,0.024]]],
  [300, [[0,0.0034],[0.0069,0.0055],[0.013,0.0065],[0.019,0.0136],[0.0241,0.0166],[0.0302,0.0206],[0.0362,0.0217],[0.0433,0.0241],[0.0504,0.0233],[0.0575,0.0257],[0.0626,0.0227],[0.0686,0.0277],[0.0767,0.0227],[0.0848,0.0257],[0.0929,0.0277],[0.1,0.0261]]],
  [500, [[0.033,0.1],[0.03,0.0925],[0.025,0.089],[0.027,0.084],[0.034,0.082],[0.038,0.074],[0.033,0.072],[0.04,0.066],[0.032,0.062],[0.024,0.062],[0.02,0.058],[0.024,0.052],[0.018,0.046],[0.014,0.04],[0.007,0.028],[0.009,0.022]]],
  [500, [[0.026,0.042],[0.034,0.038],[0.038,0.042],[0.044,0.046],[0.052,0.045],[0.058,0.048],[0.069,0.046],[0.077,0.048],[0.085,0.044],[0.093,0.05],[0.1,0.054]]],
  [500, [[0.024,0.036],[0.032,0.028],[0.044,0.032],[0.05,0.034],[0.046,0.04],[0.036,0.036]]],
  [500, [[0.085,0.034],[0.092,0.036],[0.1,0.032],[0.1,0.04],[0.09,0.042]]],
  [500, [[0.03,0.06],[0.036,0.056],[0.042,0.06],[0.038,0.052],[0.03,0.05],[0.026,0.056],[0.03,0.06]]],
  [500, [[0.06,0.052],[0.066,0.056],[0.072,0.052],[0.068,0.05]]],
  [800, [[0.079,0.0975],[0.085,0.096],[0.086,0.0925],[0.081,0.093],[0.079,0.095],[0.079,0.0975]]]
];
const lineRingsD = [0.0688,0.0595,0.0725,0.0925,0.097,0.098,0.0755,0.065,0.079,0.052,0.068,0.074,0.088,0.068,0.091,0.058,0.012,0.016,0.019,0.024,0.007];
const lineRingsDy = [0.0955,0.0825,0.0815,0.0925,0.0885,0.0805,0.0895,0.093,0.086,0.077,0.076,0.0795,0.072,0.065,0.07,0.088,0.027,0.026,0.027,0.024,0.026];
const voidShapesD = [[[0,0.1],[0.01,0.1],[0.01,0.0985],[0.0075,0.0955],[0.004,0.0965],[0,0.095]]];
const voidDotsD = [0.003,0.006,0.002,0.005,0.003,0.007,0.002,0.005,0.001,0.0035,0.006,0.002,0.0007];
const voidDotsDy = [0.091,0.088,0.086,0.083,0.08,0.078,0.075,0.072,0.07,0.066,0.062,0.062,0.055];
const lineLabelsD = [[800,"800µm",0.019,0.0733,-90],[500,"500µm",0.0362,0.0504,0],[300,"300µm",0.0611,0.0166,0]];

const linesClusterH = [
  [800, [[0.0897,0.1],[0.0846,0.0905],[0.0776,0.0854],[0.0705,0.0783],[0.0624,0.0722],[0.0584,0.0682],[0.0523,0.0621],[0.0483,0.054],[0.0442,0.0469],[0.0412,0.0418],[0.0362,0.0438],[0.0321,0.0428],[0.024,0.0418],[0.018,0.0377],[0.0119,0.0398],[0.0048,0.0367],[0,0.0387]]],
  [500, [[0.0978,0.1],[0.0917,0.0935],[0.0846,0.0854],[0.0766,0.0783],[0.0685,0.0722],[0.0634,0.0671],[0.0584,0.0611],[0.0543,0.054],[0.0503,0.0469],[0.0463,0.0408],[0.0442,0.0337],[0.0412,0.0276],[0.0372,0.0286],[0.0341,0.0337],[0.0301,0.0306],[0.0321,0.0367],[0.024,0.0347],[0.016,0.0347],[0.0069,0.0337],[0,0.0327]]],
  [300, [[0.0992,0.1],[0.0947,0.0915],[0.0887,0.0844],[0.0826,0.0783],[0.0756,0.0722],[0.0705,0.0671],[0.0655,0.0611],[0.0604,0.055],[0.0554,0.0469],[0.0523,0.0387],[0.0503,0.0306],[0.0453,0.0205],[0.0412,0.0124],[0.0382,0.0043],[0.0366,0]]],
  [300, [[0,0.0235],[0.005,0.0245],[0.012,0.0205],[0.007,0.0164],[0.002,0.0185]]],
  [300, [[0.002,0.0124],[0.01,0.0144],[0.018,0.0114],[0.012,0.0063],[0.007,0]]]
];
const lineRingsH = [0.0694,0.078,0.002,0.024,0.028];
const lineRingsHy = [0.0665,0.0745,0.004,0.016,0.019];
const voidShapesH = [
  [[0,0.1],[0.007,0.1],[0.012,0.0965],[0.021,0.0985],[0.03,0.0935],[0.03,0.0885],[0.019,0.0815],[0.012,0.0745],[0.007,0.0695],[0.012,0.066],[0.006,0.062],[0,0.066]],
  [[0.028,0.079],[0.036,0.083],[0.04,0.0815],[0.036,0.077],[0.032,0.072],[0.026,0.074]],
  [[0.018,0.068],[0.025,0.073],[0.03,0.068],[0.024,0.064]]
];
const voidDotsH = [0.0139,0.0048,0.0099,0.025,0.0291,0.0362,0.0392,0.0341,0.0453,0.0523,0.0584,0.0624,0.0503,0.0564,0.0644,0.0715,0.0513,0.0543,0.0463,0.0392,0.0402,0.0301,0.023,0.017,0.0069,0.0038,0.024,0.0018,0.0089,0.035,0.042,0.047,0.055,0.061,0.0325,0.0415,0.0475,0.033,0.027,0.0125,0.0185];
const voidDotsHy = [0.0925,0.0844,0.0986,0.0976,0.0976,0.0986,0.0905,0.0925,0.0884,0.0884,0.0884,0.0895,0.0966,0.0976,0.0945,0.0955,0.0824,0.0813,0.0813,0.0722,0.0682,0.0722,0.0661,0.058,0.058,0.0621,0.0621,0.054,0.054,0.0945,0.0945,0.0925,0.0925,0.0945,0.0865,0.0775,0.0775,0.0665,0.0625,0.0625,0.0625];
const lineLabelsH = [[800,"800µm",0.018,0.0813,-38],[800,"800µm",0.0109,0.0424,0],[500,"500µm",0.016,0.0276,0],[300,"300µm",0.022,0.0043,0]];

const linesClusterL = [
  [500, [[0.012,0.1],[0.018,0.097],[0.02,0.093],[0.016,0.09],[0.019,0.086],[0.014,0.082],[0.007,0.088],[0.003,0.094],[0.005,0.1]]],
  [500, [[0.004,0.094],[0.012,0.086],[0.015,0.091],[0.009,0.097],[0.004,0.094]]],
  [500, [[0.005,0.079],[0.012,0.082],[0.015,0.078],[0.011,0.071],[0.006,0.068],[0.012,0.062],[0.016,0.063],[0.021,0.066]]],
  [500, [[0.002,0.062],[0.008,0.058],[0.012,0.055],[0.008,0.048],[0.013,0.043],[0.009,0.038],[0.006,0.033],[0.01,0.027],[0.007,0.02],[0.012,0.015],[0.008,0.01],[0.003,0.006],[0.002,0.014],[0.004,0.028],[0.002,0.04],[0.004,0.05],[0.002,0.062]]],
  [500, [[0.012,0.044],[0.016,0.04],[0.013,0.036],[0.009,0.039],[0.012,0.044]]],
  [200, [[0.022,0.003],[0.03,0.008],[0.034,0.014],[0.036,0.022],[0.045,0.024],[0.05,0.03],[0.056,0.032],[0.06,0.034],[0.067,0.04],[0.075,0.045],[0.082,0.048],[0.089,0.06],[0.095,0.075],[0.094,0.085]]],
  [200, [[0.034,0.026],[0.04,0.032],[0.048,0.036],[0.055,0.04]]],
  [200, [[0.06,0.05],[0.075,0.065],[0.08,0.07],[0.078,0.06],[0.07,0.055]]],
  [200, [[0.085,0.05],[0.095,0.05],[0.1,0.06]]],
  [200, [[0.055,0.016],[0.06,0.02],[0.07,0.025],[0.08,0.03]]],
  [100, [[0.06,0.0005],[0.068,0.002],[0.072,0.005],[0.076,0.004],[0.08,0.006],[0.09,0.005],[0.098,0.008]]]
];
const lineRingsL = [0.0348,0.0399,0.046,0.055,0.0652,0.0773,0.0885,0.0925,0.0824,0.0976,0.0946,0.0915,0.0864,0.0783,0.0642,0.0702,0.0763,0.0885,0.0429,0.0541,0.0581,0.0692];
const lineRingsLy = [0.0237,0.0318,0.0378,0.0399,0.0601,0.0713,0.0804,0.0905,0.0915,0.0895,0.0733,0.0621,0.052,0.0399,0.0318,0.0298,0.0277,0.0336,0.0105,0.0217,0.0581,0.0688];
const lineLabelsL = [[500,"500µm",0.0186,0.0581,-55],[200,"200µm",0.0723,0.05,-50],[100,"100µm",0.0864,0.0065,0]];

const cbTicksAsym = [0, 0.25, 0.5, 0.75, 1];
const cbTicksStd = [0, 0.0002, 0.0004, 0.0006, 0.0008, 0.001];

const asymColors = { 0.01: "#f3c4f3", 0.1: "#dab6f0", 0.2: "#b4bcee", 0.3: "#92c3ec" };
const densColors = { 0.01: "#f0d4f0", 0.05: "#dff0ea", 0.1: "#eef6e0" };
const clusterColors = { 800: "#b9ece2", 500: "#a63ccf", 300: "#34b6d2" };
const clusterColorsL = { 500: "#d6f2dc", 200: "#a63ccf", 100: "#3b9ad8" };

function rings(xs, ys) { return xs.map((x, i) => [x, ys[i]]); }

const svg = d3.select("#chart");
const defs = svg.append("defs");

// layout per panel, box = [left, right, top, bottom] of the plot, cb = [left, right] of the colour bar
const panels = [
  { id:"A", title:"Migration", grid:asymMigration, unit:0.01, domain:[0,1], cbTicks:cbTicksAsym, cbFmt:".2f", cbLabel:"Asymmetry", box:[45.7,231.7,39,200.3], cb:[239.3,249.3], cbLabelX:273, cbFont:6.4, tickFont:6.3, rotate:true, blur:3, sym:["J","B","C"], yl:[17,119], xl:[137,220], tx:[138,30], lt:[26,28], lines:linesAsymA, labels:lineLabelsA, colors:asymColors, lblFont:5.4, lblAngle:-41, lineW:1.1 },
  { id:"B", title:"Migration", grid:stdMigration, unit:0.00001, domain:[0,0.001], cbTicks:cbTicksStd, cbFmt:".4f", cbLabel:"Asymmetry Standard Deviation", box:[325,506.3,39,202], cb:[514.3,524.3], cbLabelX:557, cbFont:5.8, tickFont:6.3, rotate:true, blur:1.3, sym:["J","B","C"], yl:[296,111], xl:[415,222], tx:[423,29], lt:[307,28] },
  { id:"C", title:"Migration", grid:densityMigration, unit:0.001, domain:[0,0.074], cbTicks:[0,0.01,0.02,0.03,0.04,0.05,0.06,0.07], cbFmt:".2f", cbLabel:"EC Density Standard Deviation", box:[609.7,786.3,39,202.7], cb:[803,811.7], cbLabelX:842, cbFont:7.5, tickFont:7.5, blur:0.8, sym:["J","B","C"], yl:[576,124], xl:[696,226], tx:[703,29], lt:[592,28], lines:linesDensityC, labels:lineLabelsC, colors:densColors, lblFont:7.5, lblAngles:[-55,40], lineW:1.5 },
  { id:"D", title:"Migration", grid:clusterMigration, unit:10, domain:[0,1890], cbTicks:[0,250,500,750,1000,1250,1500,1750], cbFmt:"d", cbLabel:"EC Cluster Standard Deviation (µm)", box:[890.3,1055,37.7,202.3], cb:[1064,1072.3], cbLabelX:1095, cbFont:5.2, tickFont:5, rotate:true, blur:0.6, sym:["J","B","C"], yl:[865,120], xl:[972,227], tx:[977,29], lt:[872,28], lines:linesClusterD, rings:rings(lineRingsD,lineRingsDy), ringLevel:800, voids:voidShapesD, voidDots:rings(voidDotsD,voidDotsDy), voidR:2.2, labels:lineLabelsD, colors:clusterColors, big:true, lineW:1 },
  { id:"E", title:"Proliferation", grid:asymProliferation, unit:0.01, domain:[0,1], cbTicks:cbTicksAsym, cbFmt:".2f", cbLabel:"Asymmetry", box:[45.7,231.7,268.3,430], cb:[239.3,249.3], cbLabelX:273, cbFont:6.4, tickFont:6.3, rotate:true, blur:3, sym:["δ","B","C"], yl:[17,349], xl:[138,450], tx:[139,257], lt:[26,257], lines:linesAsymE, labels:lineLabelsE, colors:asymColors, lblFont:5.4, lblAngle:-41, lineW:1.1 },
  { id:"F", title:"Proliferation", grid:stdProliferation, unit:0.00001, domain:[0,0.001], cbTicks:cbTicksStd, cbFmt:".4f", cbLabel:"Asymmetry Standard Deviation", box:[325.7,506.7,265.7,430], cb:[514.3,524.3], cbLabelX:557, cbFont:5.8, tickFont:6.3, rotate:true, blur:1.3, sym:["δ","B","C"], yl:[297,337], xl:[416,451], tx:[419,257], lt:[307,257] },
  { id:"G", title:"Proliferation", grid:densityProliferation, unit:0.001, domain:[0.002,0.132], cbTicks:[0.02,0.04,0.06,0.08,0.1,0.12], cbFmt:".2f", cbLabel:"EC Density Standard Deviation", box:[610.7,786,267.3,430.7], cb:[803,811.7], cbLabelX:842, cbFont:7.5, tickFont:7.5, blur:0.7, sym:["J","B","δC"], yl:[577,351], xl:[698,454], tx:[699,254], lt:[592,258], lines:linesDensityG, rings:rings(lineRingsG,lineRingsGy), ringLevel:0.05, labels:lineLabelsG, colors:densColors, lblFont:7.5, lblAngles:[-34,-20,-90], lineW:1.4 },
  { id:"H", title:"Proliferation", grid:clusterProliferation, unit:10, domain:[0,1960], cbTicks:[0,250,500,750,1000,1250,1500,1750], cbFmt:"d", cbLabel:"EC Cluster Standard Deviation (µm)", box:[890.3,1055.3,269.3,433.7], cb:[1065.3,1075], cbLabelX:1098, cbFont:5.2, tickFont:5, rotate:true, blur:0.6, sym:["δ","B","C"], yl:[868,350], xl:[973,456], tx:[977,257], lt:[872,258], lines:linesClusterH, rings:rings(lineRingsH,lineRingsHy), ringLevel:300, voids:voidShapesH, voidDots:rings(voidDotsH,voidDotsHy), voidR:2.7, labels:lineLabelsH, colors:clusterColors, big:true, lineW:1 },
  { id:"I", title:"Differentiation", grid:asymDifferentiation, unit:0.01, domain:[0,1], cbTicks:cbTicksAsym, cbFmt:".2f", cbLabel:"Asymmetry", box:[45.7,231.7,494.3,653.7], cb:[239.3,249.3], cbLabelX:273, cbFont:6.4, tickFont:6.3, rotate:true, blur:2.2, sym:["α","B","C"], yl:[16,573], xl:[139,680], tx:[142,484], lt:[26,484], lines:linesAsymI, labels:lineLabelsI, colors:asymColors, lblFont:5.8, lblAngles:[-76,-72,-66,-38,-20,-15,-12], lineW:1.1 },
  { id:"J", title:"Differentiation", grid:stdDifferentiation, unit:0.00001, domain:[0,0.001], cbTicks:cbTicksStd, cbFmt:".4f", cbLabel:"Asymmetry Standard Deviation", box:[326.3,507.3,493.7,659.3], cb:[515.3,525], cbLabelX:557, cbFont:5.8, tickFont:6.3, rotate:true, blur:1.3, sym:["α","B","C"], yl:[297,575], xl:[416,684], tx:[419,484], lt:[307,484] },
  { id:"K", title:"Differentiation", grid:densityDifferentiation, unit:0.001, domain:[0,0.103], cbTicks:[0,0.02,0.04,0.06,0.08,0.1], cbFmt:".2f", cbLabel:"EC Density Standard Deviation", box:[609.7,787,493,657.7], cb:[803.7,812], cbLabelX:842, cbFont:7.5, tickFont:7.5, blur:2, sym:["J","B","αC"], yl:[577,578], xl:[698,683], tx:[698,482], lt:[592,484], lines:linesDensityK, rings:rings(lineRingsK,lineRingsKy), ringLevel:0.05, labels:lineLabelsK, colors:densColors, lblFont:7.5, lblAngles:[-24], lineW:1.4 },
  { id:"L", title:"Differentiation", grid:clusterDifferentiation, unit:10, domain:[0,720], cbTicks:[0,100,200,300,400,500,600,700], cbFmt:"d", cbLabel:"EC Cluster Standard Deviation (µm)", box:[887.7,1052.3,494.3,659], cb:[1065,1074], cbLabelX:1095, cbFont:5.2, tickFont:5, rotate:true, blur:0.6, sym:["α","B","C"], yl:[863,576], xl:[970,682], tx:[979,482], lt:[872,484], lines:linesClusterL, rings:rings(lineRingsL,lineRingsLy), ringLevel:200, labels:lineLabelsL, colors:clusterColorsL, big:true, lineW:1 }
];

function mathLabel(g, x, y, letter, sub, anchor) {
  let t = g.append("text").attr("x", x).attr("y", y).attr("text-anchor", anchor || "middle")
    .attr("font-size", 12).attr("font-style", "italic").style("fill", "#222");
  t.append("tspan").text(letter);
  t.append("tspan").attr("dy", 3).attr("font-size", 8.5).text(sub);
}

panels.forEach((p) => {
  let [x0, x1, y0, y1] = p.box;
  let x = d3.scaleLinear().domain([0, 0.1]).range([x0, x1]);
  let y = d3.scaleLinear().domain([0, 0.1]).range([y1, y0]);
  let color = d3.scaleSequential(d3.interpolateViridis).domain(p.domain);

  let rows = p.grid.length, cols = p.grid[0].length;
  let bandX = d3.scaleBand().domain(d3.range(cols)).range([x0, x1]);
  let bandY = d3.scaleBand().domain(d3.range(rows)).range([y0, y1]);
  let cells = p.grid.flatMap((row, r) => row.map((v, c) => ({ r, c, v: v * p.unit })));

  let g = svg.append("g").attr("class", "panel-" + p.id);

  defs.append("clipPath").attr("id", "clip-" + p.id)
    .append("rect").attr("x", x0).attr("y", y0).attr("width", x1 - x0).attr("height", y1 - y0);
  defs.append("filter").attr("id", "blur-" + p.id)
    .attr("x", "-10%").attr("y", "-10%").attr("width", "120%").attr("height", "120%")
    .attr("color-interpolation-filters", "sRGB")
    .append("feGaussianBlur").attr("stdDeviation", p.blur);

  let plot = g.append("g").attr("clip-path", `url(#clip-${p.id})`);
  plot.append("g").attr("id", "cells-" + p.id)
    .selectAll("rect").data(cells).enter().append("rect")
    .attr("x", (d) => bandX(d.c))
    .attr("y", (d) => bandY(d.r))
    .attr("width", bandX.bandwidth() + 0.5)
    .attr("height", bandY.bandwidth() + 0.5)
    .attr("fill", (d) => color(d.v));
  // blurred copy on top, the crisp cells keep the plot edges solid
  plot.append("use").attr("href", "#cells-" + p.id).attr("filter", `url(#blur-${p.id})`);

  let line = d3.line().x((d) => x(d[0])).y((d) => y(d[1])).curve(d3.curveCatmullRom.alpha(0.5));
  let polygon = d3.line().x((d) => x(d[0])).y((d) => y(d[1])).curve(d3.curveCatmullRomClosed.alpha(0.5));

  if (p.voids) {
    plot.selectAll("path.void").data(p.voids).enter().append("path")
      .attr("class", "void").attr("d", polygon)
      .attr("fill", "#440154").attr("stroke", "#a58be4").attr("stroke-width", 1);
  }
  if (p.voidDots) {
    plot.selectAll("circle.void").data(p.voidDots).enter().append("circle")
      .attr("class", "void").attr("cx", (d) => x(d[0])).attr("cy", (d) => y(d[1])).attr("r", p.voidR)
      .attr("fill", "#440154").attr("stroke", "#a58be4").attr("stroke-width", 0.9);
  }
  if (p.lines) {
    plot.selectAll("path.level").data(p.lines).enter().append("path")
      .attr("class", "level").attr("d", (d) => line(d[1])).attr("fill", "none")
      .attr("stroke", (d) => p.colors[d[0]]).attr("stroke-width", p.lineW).attr("stroke-linejoin", "round");
  }
  if (p.rings) {
    plot.selectAll("circle.ring").data(p.rings).enter().append("circle")
      .attr("class", "ring").attr("cx", (d) => x(d[0])).attr("cy", (d) => y(d[1])).attr("r", 1.5)
      .attr("fill", "none").attr("stroke", p.colors[p.ringLevel]).attr("stroke-width", 1);
  }
  if (p.labels) {
    // halo takes the colour of the cell under the label, so the contour looks broken there
    let under = (d) => {
      let c = Math.min(cols - 1, Math.floor(d[2] / 0.1 * cols));
      let r = Math.min(rows - 1, Math.floor((0.1 - d[3]) / 0.1 * rows));
      return color(p.grid[r][c] * p.unit);
    };
    plot.selectAll("text.level").data(p.labels).enter().append("text")
      .attr("class", p.big ? "level big" : "level")
      .attr("transform", (d, i) => {
        let a = p.big ? d[4] : (p.lblAngles ? p.lblAngles[i] : p.lblAngle);
        return `translate(${x(d[2])},${y(d[3])}) rotate(${a})`;
      })
      .attr("text-anchor", "middle").attr("dominant-baseline", "central")
      .attr("font-size", p.big ? 11 : p.lblFont)
      .attr("paint-order", "stroke")
      .attr("stroke", (d) => p.big ? "none" : under(d))
      .attr("stroke-width", 2)
      .style("fill", (d) => p.big ? "#fff" : p.colors[d[0]])
      .text((d) => d[1]);
  }

  g.append("rect").attr("x", x0).attr("y", y0).attr("width", x1 - x0).attr("height", y1 - y0)
    .attr("fill", "none").attr("stroke", "#a7a2a7").attr("stroke-width", 0.8);

  let fmt = d3.format(".2f");
  let xAxis = g.append("g").attr("class", "axis").attr("transform", `translate(0,${y1})`)
    .call(d3.axisBottom(x).tickValues(axisTicks).tickFormat(fmt).tickSize(2.5).tickPadding(2));
  let yAxis = g.append("g").attr("class", "axis").attr("transform", `translate(${x0},0)`)
    .call(d3.axisLeft(y).tickValues(axisTicks).tickFormat(fmt).tickSize(2.5).tickPadding(2));
  xAxis.selectAll("text").attr("font-size", p.tickFont);
  yAxis.selectAll("text").attr("font-size", p.tickFont);
  if (p.rotate) {
    xAxis.selectAll("text").attr("transform", "rotate(-90)").attr("text-anchor", "end")
      .attr("x", -4).attr("y", 0).attr("dy", "0.32em");
  }

  // colour bar
  let cbY = d3.scaleLinear().domain(p.domain).range([y1, y0]);
  let cbSteps = d3.range(p.domain[0], p.domain[1], (p.domain[1] - p.domain[0]) / 80);
  let stepH = (y1 - y0) / 80;
  g.append("g").selectAll("rect").data(cbSteps).enter().append("rect")
    .attr("x", p.cb[0]).attr("width", p.cb[1] - p.cb[0])
    .attr("y", (d) => cbY(d) - stepH).attr("height", stepH + 0.5)
    .attr("fill", (d) => color(d));
  let cbAxis = g.append("g").attr("class", "axis").attr("transform", `translate(${p.cb[1]},0)`)
    .call(d3.axisRight(cbY).tickValues(p.cbTicks).tickFormat(d3.format(p.cbFmt)).tickSize(2.5).tickPadding(1.5));
  cbAxis.selectAll("text").attr("font-size", p.cbFont);
  g.append("text").attr("transform", `translate(${p.cbLabelX},${(y0 + y1) / 2 - 1}) rotate(-90)`)
    .attr("text-anchor", "middle").attr("dominant-baseline", "central")
    .attr("font-size", p.cbLabel === "Asymmetry" ? 10 : 8.6).text(p.cbLabel);

  // titles and axis symbols
  g.append("text").attr("class", "title").attr("x", p.tx[0]).attr("y", p.tx[1]).attr("text-anchor", "middle").text(p.title);
  g.append("text").attr("class", "letter").attr("x", p.lt[0]).attr("y", p.lt[1]).text(p.id);
  let xLetter = p.sym[2].length > 1 ? p.sym[2][0] : p.sym[0];
  mathLabel(g, p.xl[0], p.xl[1], xLetter, "C");
  mathLabel(g, p.yl[0], p.yl[1], p.sym[0], p.sym[1]);
});
</script>
</body>
</html>
